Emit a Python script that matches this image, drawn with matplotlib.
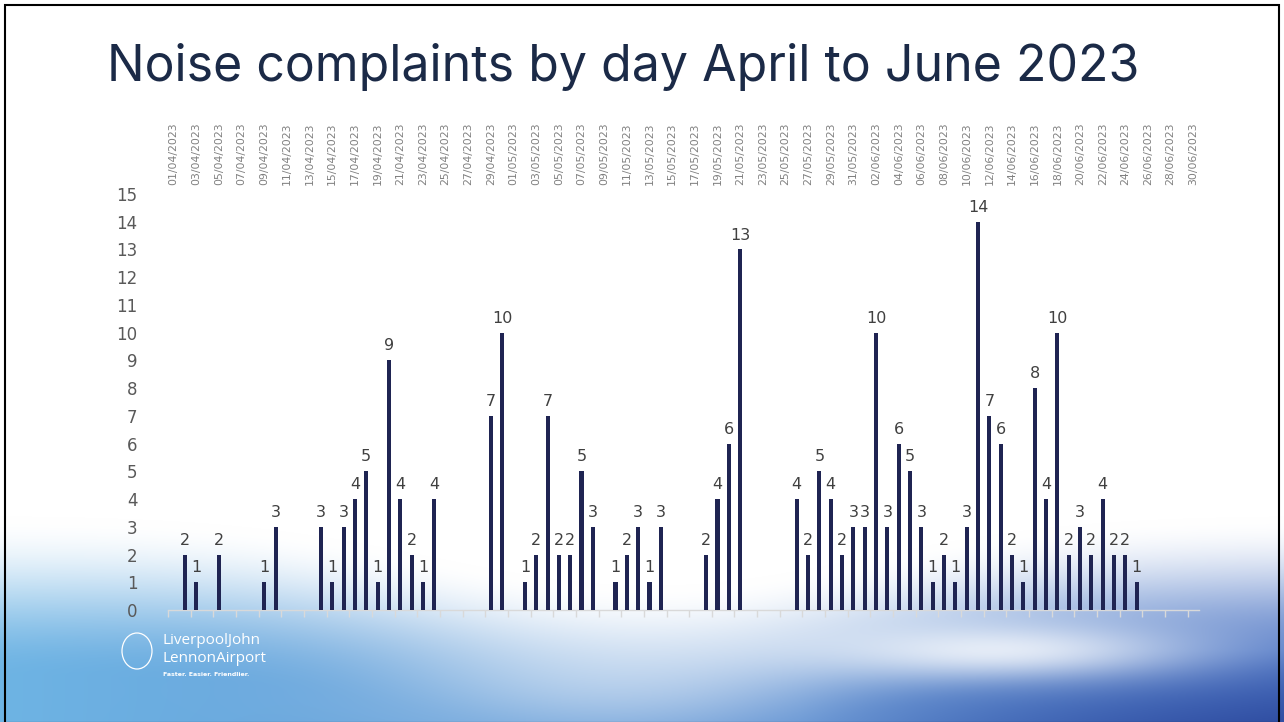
import numpy as np
import pandas as pd
import matplotlib
matplotlib.use("Agg")
import matplotlib.pyplot as plt
from matplotlib.patches import Rectangle, Ellipse

# daily noise complaints, 1 Apr - 30 Jun 2023
april = [0, 2, 1, 0, 2, 0, 0, 0, 1, 3, 0, 0, 0, 3, 1, 3, 4, 5, 1, 9,
         4, 2, 1, 4, 0, 0, 0, 0, 7, 10]
may = [0, 1, 2, 7, 2, 2, 5, 3, 0, 1, 2, 3, 1, 3, 0, 0, 0, 2, 4, 6,
       13, 0, 0, 0, 0, 4, 2, 5, 4, 2, 3]
june = [3, 10, 3, 6, 5, 3, 1, 2, 1, 3, 14, 7, 6, 2, 1, 8, 4, 10, 2, 3,
        2, 4, 2, 2, 1, 0, 0, 0, 0, 0]

days = pd.date_range("2023-04-01", "2023-06-30", freq="D")
labels = [d.strftime("%d/%m/%Y") for d in days]
counts = np.array(april + may + june)
x = np.arange(len(days))

W, H = 1284, 722
fig = plt.figure(figsize=(W / 100, H / 100), dpi=100)

# background: white slide with blue haze at the bottom
bg = fig.add_axes([0, 0, 1, 1])
yy, xx = np.mgrid[0:H, 0:W]
xn = xx / W
start = 515 + 70 * np.exp(-((xx - 650) / 300.0) ** 2)
t = np.clip((yy - start) / 160.0, 0, 1)
t = t * t * (3 - 2 * t)
blob = np.exp(-(((xx - 1000) / 200.0) ** 2 + ((yy - 650) / 30.0) ** 2))
mid = np.exp(-(((xx - 600) / 250.0) ** 2 + ((yy - 690) / 60.0) ** 2))
t = t * (1 - 0.8 * blob) * (1 - 0.35 * mid)
left = np.array([110, 180, 228]) / 255
right = np.array([75, 115, 195]) / 255
deep = np.array([48, 78, 162]) / 255
base = left[None, None, :] * (1 - xn[..., None]) + right[None, None, :] * xn[..., None]
dk = np.clip((yy - 650) / 72.0, 0, 1)[..., None] * np.clip((xx - 800) / 484.0, 0, 1)[..., None]
base = base * (1 - dk) + deep * dk
img = np.ones((H, W, 3)) * (1 - t[..., None]) + base * t[..., None]
bg.imshow(img, aspect="auto", extent=[0, W, H, 0])
bg.set_xlim(0, W)
bg.set_ylim(H, 0)
bg.axis("off")
bg.add_patch(Rectangle((5, 5), W - 10, H - 4, fill=False, ec="black", lw=1.5))

# logo
bg.text(162, 641, "LiverpoolJohn", color="white", fontsize=11, va="center",
        family="Open Sans")
bg.text(162, 658, "LennonAirport", color="white", fontsize=11, va="center",
        family="Open Sans")
bg.text(163, 675, "Faster. Easier. Friendlier.", color="white", fontsize=4.5,
        va="center", weight="bold")
bg.add_patch(Ellipse((137, 651), 30, 36, fill=False, ec="white", lw=0.9))

bg.text(107, 67, "Noise complaints by day April to June 2023", color="#1b2a47",
        fontsize=36, va="center", ha="left", family="Inter")

ax = fig.add_axes([168 / W, 112 / H, 1031 / W, 416 / H])
ax.patch.set_alpha(0)
ax.bar(x, counts, width=0.36, color="#1f2452", zorder=3)
for xi, c in zip(x, counts):
    if c > 0:
        ax.annotate(str(c), (xi, c), xytext=(0, 5), textcoords="offset points",
                    ha="center", va="bottom", fontsize=11.5, color="#404040")

ax.set_xlim(-0.5, len(days) - 0.5)
ax.set_ylim(0, 15)
ax.set_yticks(range(0, 16))
ax.set_xticks(x[::2])
ax.set_xticklabels(labels[::2], rotation=90, fontsize=7.8, color="#808080")
ax.set_xticks(np.arange(-0.5, len(days), 2), minor=True)
ax.tick_params(axis="x", which="major", top=False, bottom=False,
               labeltop=True, labelbottom=False, pad=3)
ax.tick_params(axis="x", which="minor", bottom=True, length=5,
               color="#d9d9d9", width=1)
ax.tick_params(axis="y", length=0, labelsize=12, labelcolor="#595959", pad=22)
for s in ["top", "right", "left"]:
    ax.spines[s].set_visible(False)
ax.spines["bottom"].set_color("#d9d9d9")
ax.spines["bottom"].set_linewidth(1)

fig.savefig("out.png", dpi=100)
